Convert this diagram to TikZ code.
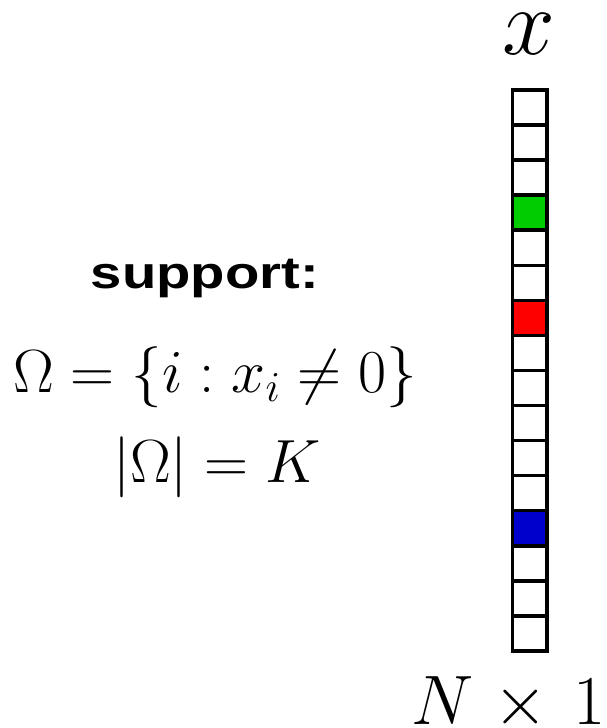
\RequirePackage{fix-cm}
\documentclass[tikz,border=0pt]{standalone}
\usepackage{fontspec}
\newfontfamily\supfont{Liberation Sans}[FakeStretch=1.25]
\definecolor{cgreen}{RGB}{0,204,0}
\definecolor{cred}{RGB}{255,0,0}
\definecolor{cblue}{RGB}{0,0,204}
\begin{document}
\begin{tikzpicture}[x=1pt,y=-1pt,
  cell/.style={draw=black,line width=3.5pt,minimum width=34.7pt,minimum height=35.06pt,inner sep=0pt,outer sep=0pt,fill=white},
  lbl/.style={anchor=base,inner sep=0pt,outer sep=0pt}]
\useasboundingbox (0,0) rectangle (606,728);
\foreach \i in {1,...,16}
  \node[cell] (c\i) at (529.85,{90+35.06*(\i-0.5)}) {};
\node[cell,fill=cgreen] (g) at (c4) {};
\node[cell,fill=cred] (r) at (c7) {};
\node[cell,fill=cblue] (b) at (c13) {};
\node[lbl] (xlab) at (528.5,54) {\fontsize{95}{95}\selectfont$x$};
\node[lbl] (dim) at (508.5,724) {\fontsize{70}{70}\selectfont$N\kern5pt\times\kern10pt1$};
\node[lbl] (sup) at (205,288) {\supfont\bfseries\fontsize{45}{45}\selectfont support:};
\node[lbl] (om) at (215,392) {\fontsize{61}{61}\selectfont$\Omega=\{i:x_i\neq0\}$};
\node[lbl] (card) at (217,482) {\fontsize{61}{61}\selectfont$|\Omega|=K$};
\end{tikzpicture}
\end{document}
